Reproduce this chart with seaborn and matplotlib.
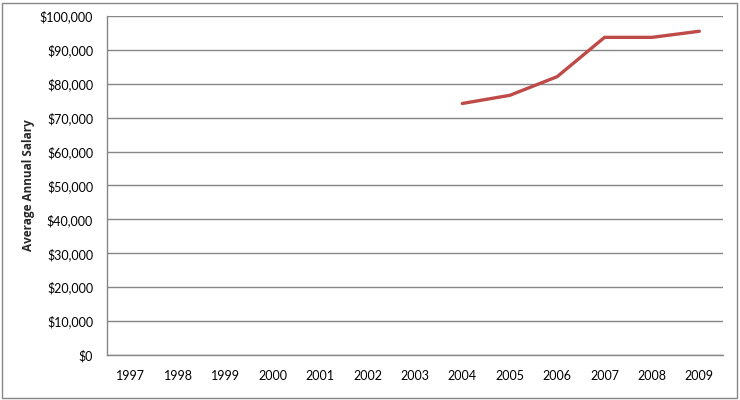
import matplotlib
matplotlib.use('Agg')
import matplotlib.pyplot as plt
import matplotlib.ticker as mticker
from matplotlib.patches import Rectangle
import seaborn as sns
import pandas as pd
import numpy as np

years = ['1997', '1998', '1999', '2000', '2001', '2002', '2003',
         '2004', '2005', '2006', '2007', '2008', '2009']
salary = [np.nan, np.nan, np.nan, np.nan, np.nan, np.nan, np.nan,
          74200, 76600, 82100, 93700, 93700, 95500]

df = pd.DataFrame({'pos': range(len(years)), 'Year': years, 'Salary': salary})

sns.set_theme(style="white")
plt.rcParams['font.family'] = ['Lato', 'DejaVu Sans']

fig = plt.figure(figsize=(7.4, 4.0), dpi=100)
ax = fig.add_axes([107 / 740, 45 / 400, 616 / 740, 339 / 400])

sns.lineplot(data=df.dropna(), x='pos', y='Salary', ax=ax,
             color='#BE4B48', linewidth=2.4)

ax.set_xlim(-0.5, len(years) - 0.5)
ax.set_ylim(0, 100000)
ax.set_yticks(np.arange(0, 100001, 10000))
ax.yaxis.set_major_formatter(mticker.FuncFormatter(lambda v, p: f"${v:,.0f}"))
ax.set_xticks(df['pos'])
ax.set_xticklabels(years)
ax.tick_params(axis='both', labelsize=9, length=0, colors='black')
ax.tick_params(axis='x', pad=11)
ax.tick_params(axis='y', pad=10)

ax.grid(axis='y', color='#868686', linewidth=1)
ax.set_axisbelow(True)
for side in ['top', 'right']:
    ax.spines[side].set_visible(False)
for side in ['left', 'bottom']:
    ax.spines[side].set_color('#868686')
    ax.spines[side].set_linewidth(1)

ax.set_xlabel('')
ax.set_ylabel('Average Annual Salary', fontsize=8.5, fontweight='bold',
              family=['Open Sans', 'DejaVu Sans'])
ax.yaxis.set_label_coords(-0.117, 0.5)

fig.patches.append(Rectangle((2 / 740, 2 / 400), 735 / 740, 395 / 400,
                             transform=fig.transFigure, fill=False,
                             edgecolor='#868686', linewidth=1))

fig.savefig('out.png', dpi=100)
